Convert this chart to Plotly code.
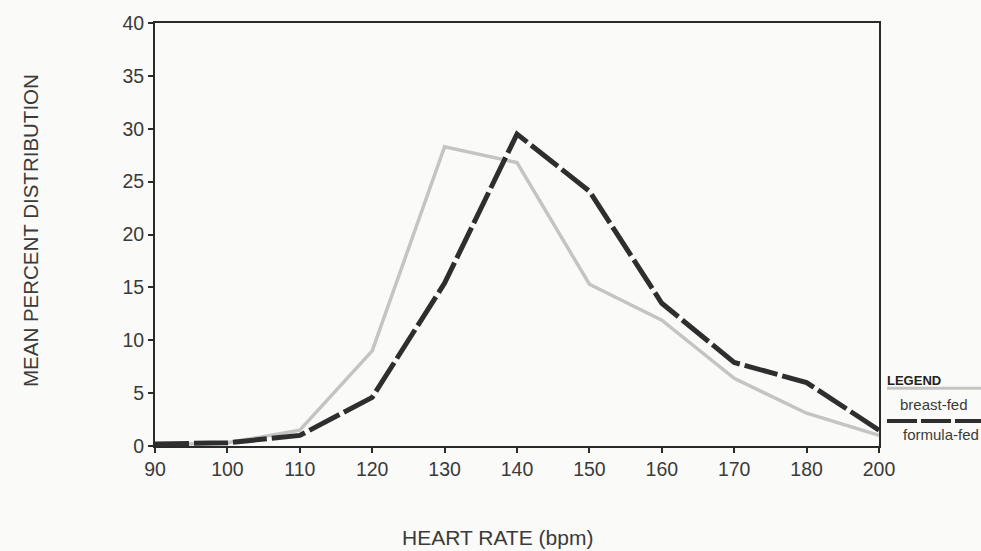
import plotly.graph_objects as go

heart_rate = ["90", "100", "110", "120", "130", "140", "150", "160", "170", "180", "200"]
breast_fed = [0.1, 0.3, 1.5, 9.0, 28.3, 26.8, 15.3, 11.9, 6.4, 3.1, 1.0]
formula_fed = [0.2, 0.3, 1.0, 4.6, 15.4, 29.5, 24.1, 13.5, 7.9, 6.0, 1.5]
y_ticks = [0, 5, 10, 15, 20, 25, 30, 35, 40]

FONT = "Liberation Sans, Arial, sans-serif"
TXT = "#3a3a3a"

fig = go.Figure()
fig.add_trace(go.Scatter(x=heart_rate, y=breast_fed, mode="lines", name="breast-fed",
                         line=dict(color="#c4c4c4", width=3.5), showlegend=False))
fig.add_trace(go.Scatter(x=heart_rate, y=formula_fed, mode="lines", name="formula-fed",
                         line=dict(color="#2e2e2e", width=5, dash="34px,5px"), showlegend=False))

fig.update_layout(
    width=981, height=551,
    margin=dict(l=155, r=102, t=21, b=105),
    paper_bgcolor="#fafaf8", plot_bgcolor="#fafaf8",
    font=dict(family=FONT, color=TXT, size=16),
    xaxis=dict(type="category", range=[0, 10], showgrid=False, zeroline=False,
               showline=True, linecolor="#2a2a2a", linewidth=2, mirror=True,
               ticks="outside", ticklen=5, tickwidth=2, tickcolor="#2a2a2a",
               tickfont=dict(size=19.5, color=TXT)),
    yaxis=dict(range=[0, 40], tickvals=y_ticks, showgrid=False, zeroline=False,
               showline=True, linecolor="#2a2a2a", linewidth=2, mirror=True,
               ticks="outside", ticklen=5, tickwidth=2, tickcolor="#2a2a2a",
               tickfont=dict(size=19.5, color=TXT)),
)


def px(xp):
    return (xp - 155) / 724


def py(yp):
    return (446 - yp) / 425


fig.add_annotation(text="HEART RATE (bpm)", xref="paper", yref="paper",
                   x=px(497), y=py(538), showarrow=False,
                   font=dict(size=21, color=TXT), xanchor="center", yanchor="middle")
fig.add_annotation(text="MEAN PERCENT DISTRIBUTION", xref="paper", yref="paper",
                   x=px(30), y=py(230), showarrow=False, textangle=-90,
                   font=dict(size=20.5, color=TXT), xanchor="center", yanchor="middle")

# legend
fig.add_annotation(text="<b>LEGEND</b>", xref="paper", yref="paper", x=px(885), y=py(380),
                   showarrow=False, xanchor="left", yanchor="middle",
                   font=dict(size=13, color="#222"))
fig.add_shape(type="line", xref="paper", yref="paper", x0=px(887), x1=px(981), y0=py(388), y1=py(388),
              line=dict(color="#c4c4c4", width=3))
fig.add_annotation(text="breast-fed", xref="paper", yref="paper", x=px(898), y=py(404),
                   showarrow=False, xanchor="left", yanchor="middle",
                   font=dict(size=15, color=TXT))
fig.add_shape(type="line", xref="paper", yref="paper", x0=px(887), x1=px(981), y0=py(421), y1=py(421),
              line=dict(color="#2e2e2e", width=4, dash="30px,4px"))
fig.add_annotation(text="formula-fed", xref="paper", yref="paper", x=px(901), y=py(434),
                   showarrow=False, xanchor="left", yanchor="middle",
                   font=dict(size=15, color=TXT))

fig.write_html("out.html", config={"displayModeBar": False},
               post_script="document.body.style.margin='0';document.body.style.overflow='hidden';")
